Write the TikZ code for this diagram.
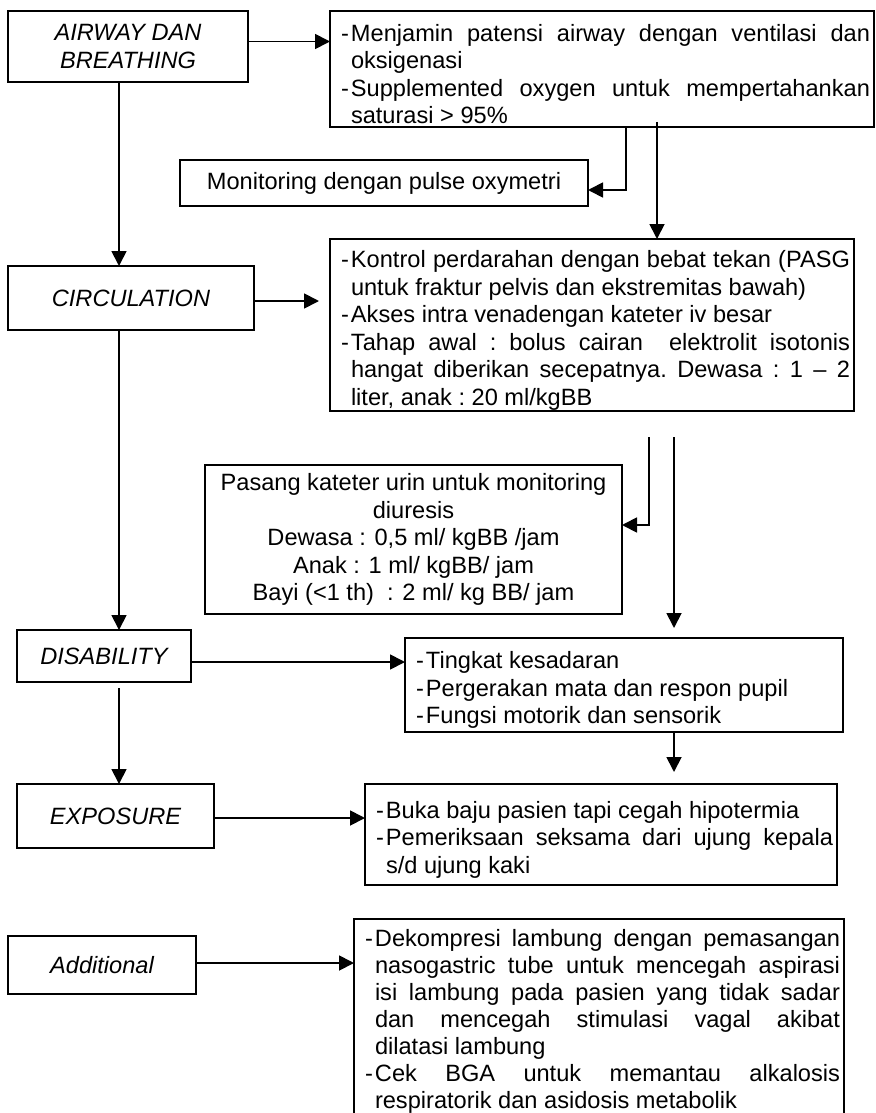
\documentclass[tikz,border=0pt]{standalone}
\usepackage{fontspec}
\setmainfont{Liberation Sans}
\usetikzlibrary{arrows.meta}
\newcommand\fs{\fontsize{23.6}{27.5}\selectfont}
\newcommand\itm[1]{\par\noindent\hangindent=10pt\hangafter=1\makebox[10pt][l]{-}#1\par}
\begin{document}
\begin{tikzpicture}[x=1pt,y=-1pt,
  box/.style={draw, line width=1.8pt, outer sep=0pt},
  lab/.style={box, anchor=north west, inner sep=0pt, align=center, font=\fs\itshape},
  lst/.style={box, anchor=north west, inner xsep=4pt, inner ysep=0pt, align=justify, font=\fs,
    execute at begin node={\leftskip=7pt\tolerance=10000\hyphenpenalty=10000\frenchspacing}},
  ctr/.style={box, anchor=north west, inner sep=0pt, align=center, font=\fs},
  arr/.style={line width=1.8pt, -{Triangle[length=15pt,width=15pt]}},
  ln/.style={line width=1.8pt}]
\useasboundingbox (0,0) rectangle (875,1113);

% left column
\node[lab, minimum width=240, minimum height=71] (ab) at (8,11) {AIRWAY DAN\\BREATHING};
\node[lab, minimum width=246, minimum height=64] (circ) at (8,266) {CIRCULATION};
\node[lab, minimum width=174, minimum height=52] (dis) at (17,630) {DISABILITY};
\node[lab, minimum width=197, minimum height=64] (exp) at (17,784) {EXPOSURE};
\node[lab, minimum width=188, minimum height=58] (add) at (8,936) {Additional};

% right column
\node[lst, text width=536, minimum height=116] (r1) at (330,11) {%
\itm{Menjamin patensi airway dengan ventilasi dan\linebreak oksigenasi}%
\itm{Supplemented oxygen untuk mempertahankan\linebreak saturasi > 95\%}};

\node[ctr, minimum width=408, minimum height=46] (mon) at (180,160) {Monitoring dengan pulse oxymetri};

\node[lst, text width=516, minimum height=172] (r2) at (330,239) {%
\itm{Kontrol perdarahan dengan bebat tekan (PASG\linebreak untuk fraktur pelvis dan ekstremitas bawah)}%
\itm{Akses intra venadengan kateter iv besar}%
\itm{Tahap awal : bolus cairan\ \ elektrolit isotonis\linebreak hangat diberikan secepatnya. Dewasa : 1 – 2\linebreak liter, anak : 20 ml/kgBB}};

\node[ctr, minimum width=417, minimum height=149] (pas) at (205,465) {Pasang kateter urin untuk monitoring\\diuresis\\Dewasa : 0,5 ml/ kgBB /jam\\Anak : 1 ml/ kgBB/ jam\\Bayi (<1 th)\ \ : 2 ml/ kg BB/ jam};

\node[lst, text width=430, minimum height=94] (r3) at (405,638) {%
\itm{Tingkat kesadaran}%
\itm{Pergerakan mata dan respon pupil}%
\itm{Fungsi motorik dan sensorik}};

\node[lst, text width=464, minimum height=101] (r4) at (365,784) {%
\itm{Buka baju pasien tapi cegah hipotermia}%
\itm{Pemeriksaan seksama dari ujung kepala\linebreak s/d ujung kaki}};

\node[lst, draw=none, text width=482, inner ysep=0pt, font=\fontsize{23.6}{27}\selectfont] (r5) at (354,919) {%
\itm{Dekompresi lambung dengan pemasangan\linebreak nasogastric tube untuk mencegah aspirasi\linebreak isi lambung pada pasien yang tidak sadar\linebreak dan mencegah stimulasi vagal akibat\linebreak dilatasi lambung}%
\itm{Cek BGA untuk memantau alkalosis\linebreak respiratorik dan asidosis metabolik}};
\draw[ln] (r5.north west |- 0,1113) -- (r5.north west) -- (r5.north east) -- (r5.north east |- 0,1113);

% connectors
\draw[arr] ([yshift=5pt]ab.east) -- ([yshift=5pt]ab.east -| r1.west);
\draw[arr] (119,0 |- ab.south) -- (119,0 |- circ.north);
\draw[arr] (626,0 |- r1.south) |- ([yshift=-7pt]mon.east);
\draw[arr] ([yshift=5pt]657,0 |- r1.south) -- (657,0 |- r2.north);
\draw[arr] ([yshift=-3pt]circ.east) -- ([xshift=-11pt,yshift=-3pt]circ.east -| r2.west);
\draw[arr] (119,0 |- circ.south) -- (119,0 |- dis.north);
\draw[arr] ([yshift=-26pt]649,0 |- r2.south) |- ([yshift=14.5pt]pas.east);
\draw[arr] ([yshift=-26pt]674,0 |- r2.south) -- ([yshift=10pt]674,0 |- r3.north);
\draw[arr] ([yshift=-6pt]dis.east) -- ([yshift=-6pt]dis.east -| r3.west);
\draw[arr] ([yshift=-6pt]119,0 |- dis.south) -- (119,0 |- exp.north);
\draw[arr] (674,0 |- r3.south) -- ([yshift=12pt]674,0 |- r4.north);
\draw[arr] ([yshift=-2pt]exp.east) -- ([yshift=-2pt]exp.east -| r4.west);
\draw[arr] ([yshift=2pt]add.east) -- ([yshift=2pt]add.east -| r5.west);
\end{tikzpicture}
\end{document}
